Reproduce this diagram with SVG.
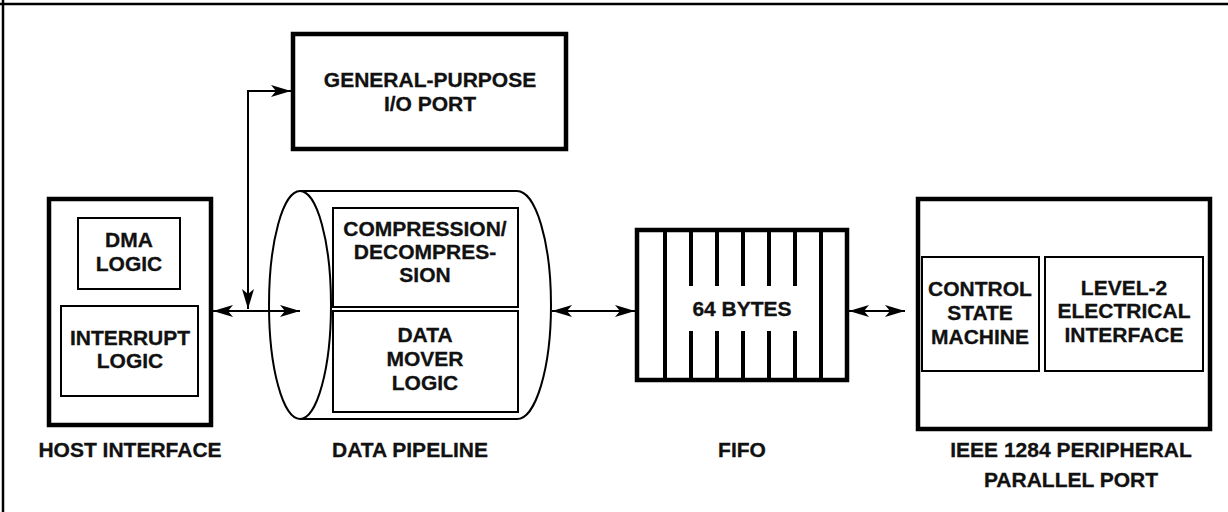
<svg xmlns="http://www.w3.org/2000/svg" width="1228" height="512" viewBox="0 0 1228 512">
<style>
text{font-family:"Liberation Sans",Arial,sans-serif;font-weight:bold;font-size:21px;fill:#111;stroke:#111;stroke-width:0.3;text-anchor:middle}
.thick{fill:none;stroke:#000;stroke-width:4.5}
.thin{fill:none;stroke:#000;stroke-width:2}
.wire{fill:none;stroke:#000;stroke-width:2}
.bar{stroke:#000;stroke-width:4}
</style>
<defs>
<marker id="ah" viewBox="0 0 20 12" refX="20" refY="6" markerWidth="20" markerHeight="12" markerUnits="userSpaceOnUse" orient="auto-start-reverse">
<path d="M0,0 L20,6 L0,12 L5,6 Z" fill="#000"/>
</marker>
</defs>
<rect width="1228" height="512" fill="#fff"/>
<g id="frame">
<line x1="0" y1="4" x2="1228" y2="4" stroke="#000" stroke-width="2.5"/>
<line x1="3" y1="0" x2="3" y2="512" stroke="#000" stroke-width="2.5"/>
</g>
<g id="gpio">
<rect class="thick" x="293" y="34" width="273" height="115"/>
<text x="430" y="87">GENERAL-PURPOSE</text>
<text x="430" y="111">I/O PORT</text>
</g>
<g id="host">
<rect class="thick" x="49" y="199" width="162" height="226"/>
<rect class="thin" x="78" y="218" width="102" height="71"/>
<text x="129" y="247">DMA</text>
<text x="129" y="271">LOGIC</text>
<rect class="thin" x="61" y="306" width="137" height="90"/>
<text x="130" y="345">INTERRUPT</text>
<text x="130" y="368">LOGIC</text>
<text x="130" y="457">HOST INTERFACE</text>
</g>
<g id="pipeline">
<path class="thin" d="M300,191 L517,191 A34,114 0 0 1 517,419 L300,419"/>
<ellipse class="thin" cx="300" cy="305" rx="31" ry="114"/>
<rect class="thin" x="333" y="208" width="185" height="99"/>
<text x="425" y="236">COMPRESSION/</text>
<text x="425" y="259">DECOMPRES-</text>
<text x="425" y="282">SION</text>
<rect class="thin" x="333" y="311" width="185" height="101"/>
<text x="425" y="342">DATA</text>
<text x="425" y="366">MOVER</text>
<text x="425" y="390">LOGIC</text>
<text x="410" y="457">DATA PIPELINE</text>
</g>
<g id="fifo">
<rect class="thick" x="637" y="230" width="210" height="150" stroke-width="4"/>
<line class="bar" x1="665" y1="230" x2="665" y2="380"/>
<line class="bar" x1="821" y1="230" x2="821" y2="380"/>
<line class="bar" x1="691" y1="230" x2="691" y2="286"/>
<line class="bar" x1="717" y1="230" x2="717" y2="286"/>
<line class="bar" x1="743" y1="230" x2="743" y2="286"/>
<line class="bar" x1="769" y1="230" x2="769" y2="286"/>
<line class="bar" x1="795" y1="230" x2="795" y2="286"/>
<line class="bar" x1="691" y1="331" x2="691" y2="380"/>
<line class="bar" x1="717" y1="331" x2="717" y2="380"/>
<line class="bar" x1="743" y1="331" x2="743" y2="380"/>
<line class="bar" x1="769" y1="331" x2="769" y2="380"/>
<line class="bar" x1="795" y1="331" x2="795" y2="380"/>
<text x="742" y="316">64 BYTES</text>
<text x="742" y="457">FIFO</text>
</g>
<g id="peripheral">
<rect class="thick" x="918" y="199" width="292" height="230"/>
<rect class="thin" x="922" y="257" width="117" height="114"/>
<text x="980" y="296">CONTROL</text>
<text x="980" y="320">STATE</text>
<text x="980" y="344">MACHINE</text>
<rect class="thin" x="1045" y="257" width="158" height="114"/>
<text x="1124" y="295">LEVEL-2</text>
<text x="1124" y="318">ELECTRICAL</text>
<text x="1124" y="342">INTERFACE</text>
<text x="1071" y="457">IEEE 1284 PERIPHERAL</text>
<text x="1071" y="487">PARALLEL PORT</text>
</g>
<g id="connectors">
<line class="wire" x1="213" y1="311" x2="300" y2="311" marker-start="url(#ah)" marker-end="url(#ah)"/>
<polyline class="wire" points="248,309 248,91 291,91" marker-start="url(#ah)" marker-end="url(#ah)"/>
<line class="wire" x1="552" y1="311" x2="635" y2="311" marker-start="url(#ah)" marker-end="url(#ah)"/>
<line class="wire" x1="849" y1="311" x2="905" y2="311" marker-start="url(#ah)" marker-end="url(#ah)"/>
</g>
</svg>
